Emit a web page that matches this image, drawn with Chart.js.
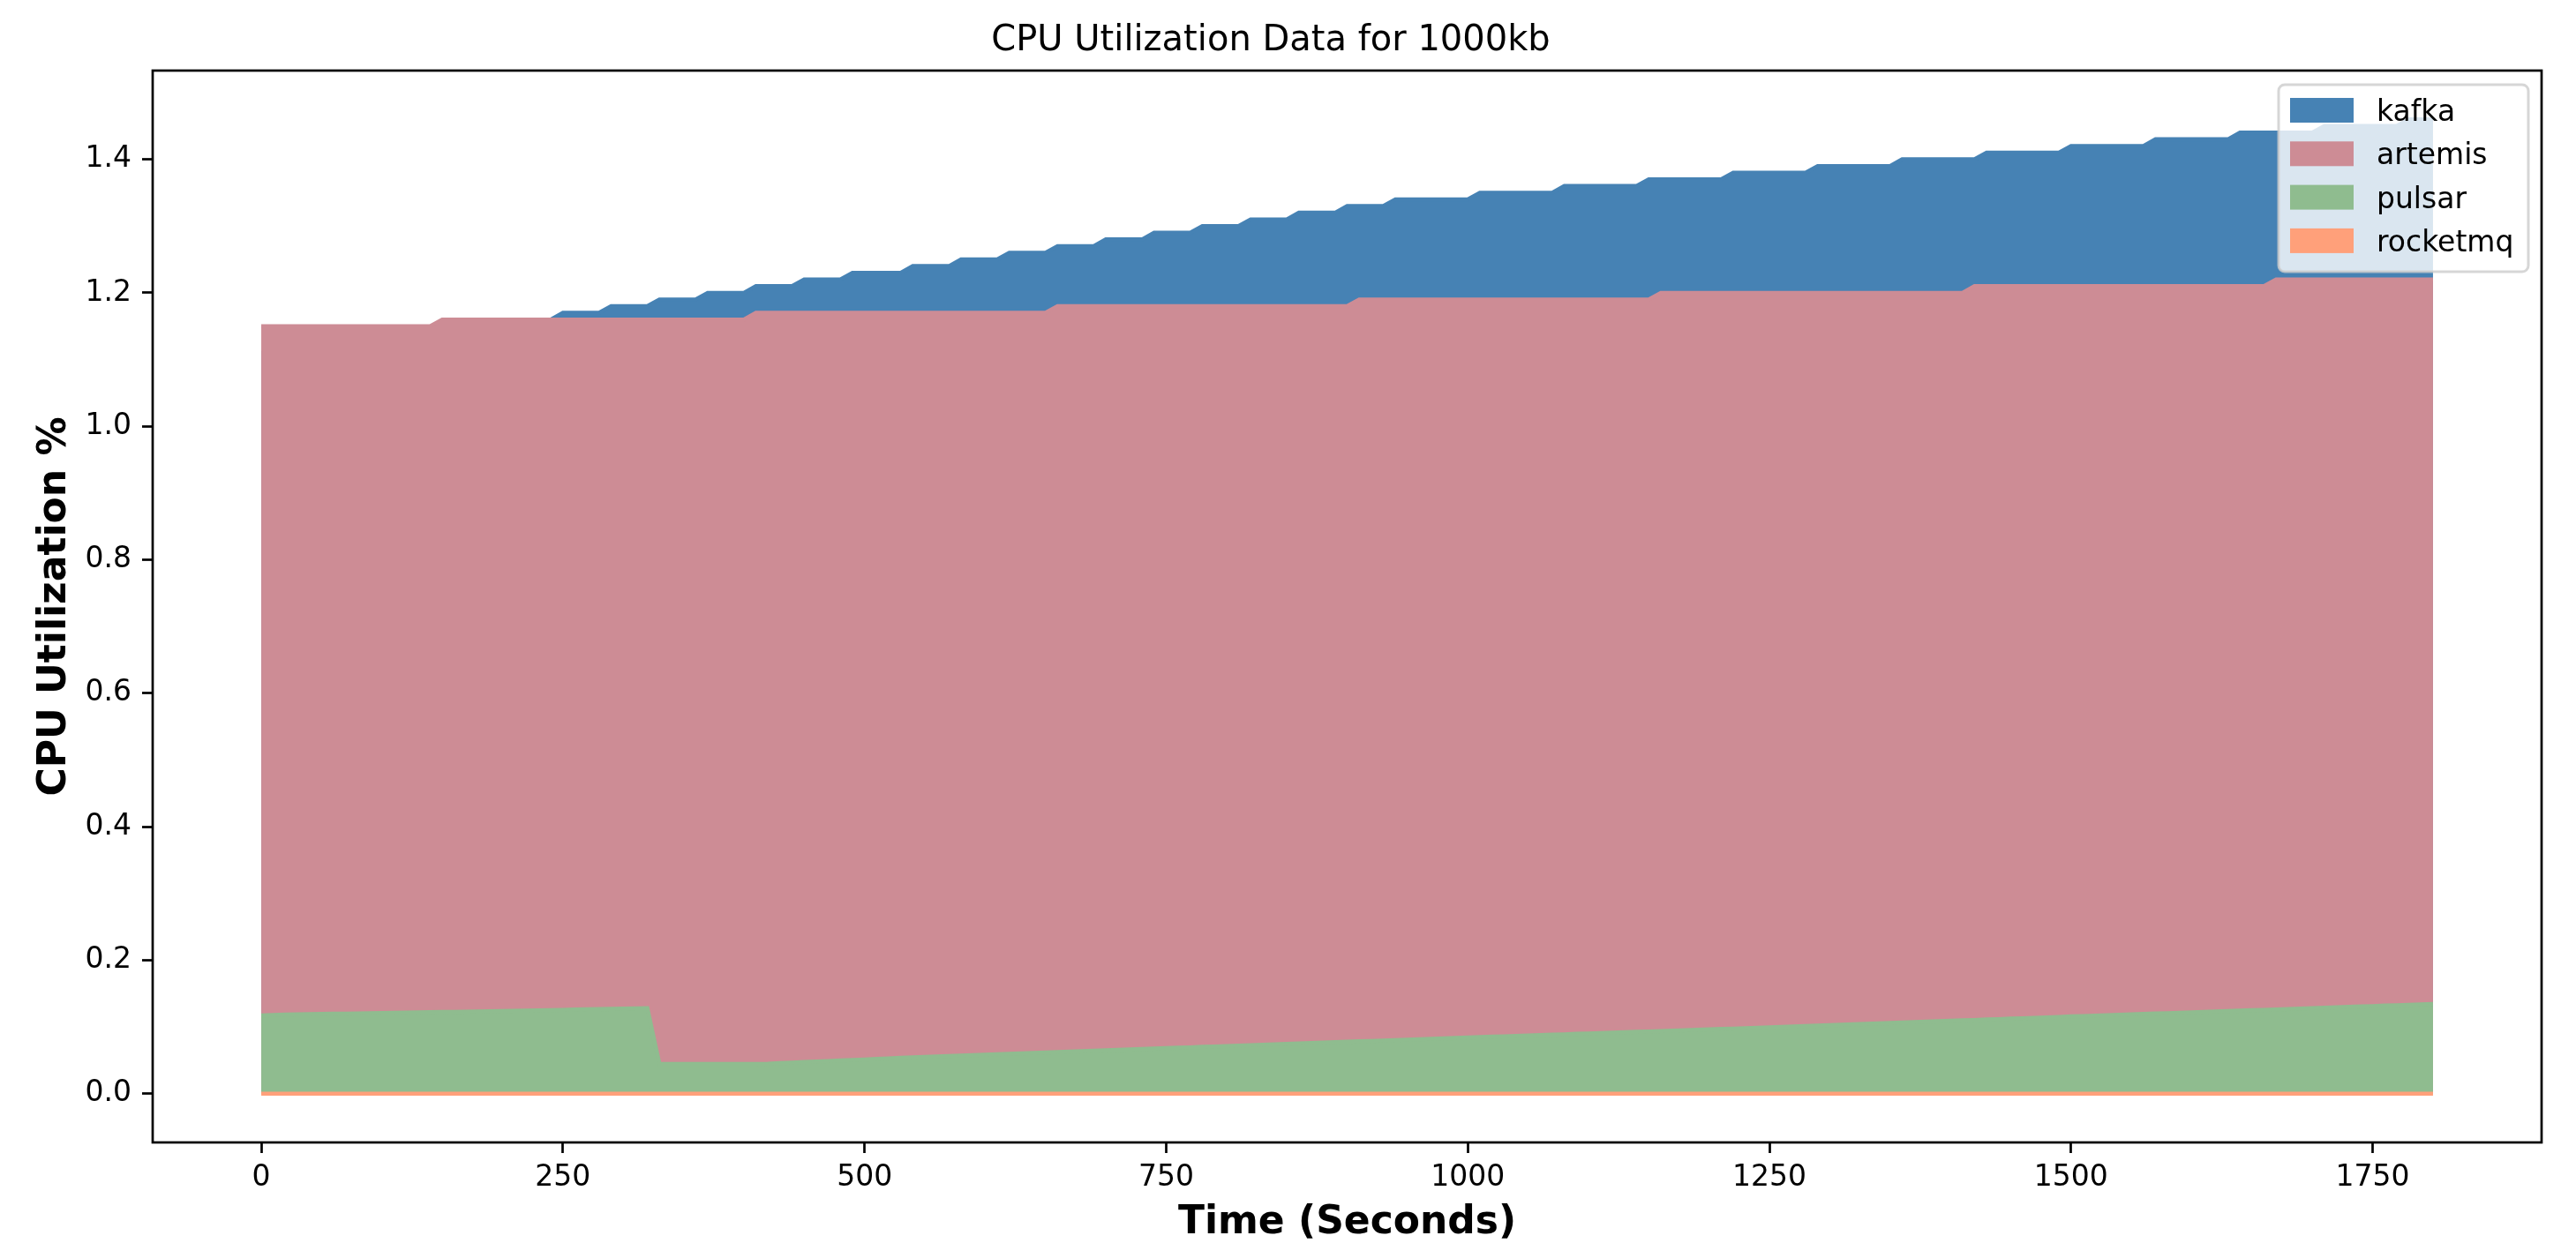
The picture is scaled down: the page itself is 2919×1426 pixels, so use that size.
<!DOCTYPE html>
<html>
<head>
<meta charset="utf-8">
<script src="https://cdn.jsdelivr.net/npm/chart.js@4.4.1/dist/chart.umd.min.js"></script>
<style>
html,body{margin:0;padding:0;background:#ffffff;overflow:hidden}
#wrap{width:2919px;height:1426px}
</style>
</head>
<body>
<div id="wrap"><canvas id="c" width="2919" height="1426"></canvas></div>
<script>
// ---- data ----
const times = [
0,10,20,30,40,50,60,70,80,90,100,110,120,130,140,150,160,170,180,190,
200,210,220,230,240,250,260,270,280,290,300,310,320,330,340,350,360,370,380,390,
400,410,420,430,440,450,460,470,480,490,500,510,520,530,540,550,560,570,580,590,
600,610,620,630,640,650,660,670,680,690,700,710,720,730,740,750,760,770,780,790,
800,810,820,830,840,850,860,870,880,890,900,910,920,930,940,950,960,970,980,990,
1000,1010,1020,1030,1040,1050,1060,1070,1080,1090,1100,1110,1120,1130,1140,1150,1160,1170,1180,1190,
1200,1210,1220,1230,1240,1250,1260,1270,1280,1290,1300,1310,1320,1330,1340,1350,1360,1370,1380,1390,
1400,1410,1420,1430,1440,1450,1460,1470,1480,1490,1500,1510,1520,1530,1540,1550,1560,1570,1580,1590,
1600,1610,1620,1630,1640,1650,1660,1670,1680,1690,1700,1710,1720,1730,1740,1750,1760,1770,1780,1790,
1800];

const kafka = [
1.11,1.11,1.11,1.11,1.11,1.12,1.12,1.12,1.12,1.13,1.13,1.13,1.13,1.14,1.14,1.14,1.14,1.15,1.15,1.15,
1.15,1.16,1.16,1.16,1.16,1.17,1.17,1.17,1.17,1.18,1.18,1.18,1.18,1.19,1.19,1.19,1.19,1.20,1.20,1.20,
1.20,1.21,1.21,1.21,1.21,1.22,1.22,1.22,1.22,1.23,1.23,1.23,1.23,1.23,1.24,1.24,1.24,1.24,1.25,1.25,
1.25,1.25,1.26,1.26,1.26,1.26,1.27,1.27,1.27,1.27,1.28,1.28,1.28,1.28,1.29,1.29,1.29,1.29,1.30,1.30,
1.30,1.30,1.31,1.31,1.31,1.31,1.32,1.32,1.32,1.32,1.33,1.33,1.33,1.33,1.34,1.34,1.34,1.34,1.34,1.34,
1.34,1.35,1.35,1.35,1.35,1.35,1.35,1.35,1.36,1.36,1.36,1.36,1.36,1.36,1.36,1.37,1.37,1.37,1.37,1.37,
1.37,1.37,1.38,1.38,1.38,1.38,1.38,1.38,1.38,1.39,1.39,1.39,1.39,1.39,1.39,1.39,1.40,1.40,1.40,1.40,
1.40,1.40,1.40,1.41,1.41,1.41,1.41,1.41,1.41,1.41,1.42,1.42,1.42,1.42,1.42,1.42,1.42,1.43,1.43,1.43,
1.43,1.43,1.43,1.43,1.44,1.44,1.44,1.44,1.44,1.44,1.44,1.45,1.45,1.45,1.45,1.45,1.45,1.45,1.46,1.46,
1.46];

const artemis = [
1.15,1.15,1.15,1.15,1.15,1.15,1.15,1.15,1.15,1.15,1.15,1.15,1.15,1.15,1.15,1.16,1.16,1.16,1.16,1.16,
1.16,1.16,1.16,1.16,1.16,1.16,1.16,1.16,1.16,1.16,1.16,1.16,1.16,1.16,1.16,1.16,1.16,1.16,1.16,1.16,
1.16,1.17,1.17,1.17,1.17,1.17,1.17,1.17,1.17,1.17,1.17,1.17,1.17,1.17,1.17,1.17,1.17,1.17,1.17,1.17,
1.17,1.17,1.17,1.17,1.17,1.17,1.18,1.18,1.18,1.18,1.18,1.18,1.18,1.18,1.18,1.18,1.18,1.18,1.18,1.18,
1.18,1.18,1.18,1.18,1.18,1.18,1.18,1.18,1.18,1.18,1.18,1.19,1.19,1.19,1.19,1.19,1.19,1.19,1.19,1.19,
1.19,1.19,1.19,1.19,1.19,1.19,1.19,1.19,1.19,1.19,1.19,1.19,1.19,1.19,1.19,1.19,1.20,1.20,1.20,1.20,
1.20,1.20,1.20,1.20,1.20,1.20,1.20,1.20,1.20,1.20,1.20,1.20,1.20,1.20,1.20,1.20,1.20,1.20,1.20,1.20,
1.20,1.20,1.21,1.21,1.21,1.21,1.21,1.21,1.21,1.21,1.21,1.21,1.21,1.21,1.21,1.21,1.21,1.21,1.21,1.21,
1.21,1.21,1.21,1.21,1.21,1.21,1.21,1.22,1.22,1.22,1.22,1.22,1.22,1.22,1.22,1.22,1.22,1.22,1.22,1.22,
1.22];

const pulsar = [
0.1172,0.1180,0.1186,0.1189,0.1192,0.1195,0.1198,0.1200,0.1203,0.1206,0.1209,0.1212,0.1215,0.1218,0.1221,0.1224,0.1227,0.1230,0.1233,0.1236,
0.1239,0.1242,0.1245,0.1249,0.1253,0.1257,0.1261,0.1265,0.1268,0.1271,0.1274,0.1277,0.1280,0.0446,0.0446,0.0446,0.0446,0.0446,0.0446,0.0446,
0.0446,0.0446,0.0450,0.0458,0.0466,0.0474,0.0482,0.0490,0.0497,0.0505,0.0513,0.0521,0.0529,0.0537,0.0544,0.0552,0.0559,0.0566,0.0572,0.0579,
0.0585,0.0592,0.0598,0.0605,0.0611,0.0618,0.0624,0.0631,0.0637,0.0644,0.0650,0.0657,0.0663,0.0670,0.0676,0.0683,0.0689,0.0695,0.0702,0.0708,
0.0715,0.0721,0.0727,0.0734,0.0740,0.0747,0.0753,0.0759,0.0766,0.0772,0.0778,0.0785,0.0791,0.0797,0.0804,0.0810,0.0816,0.0823,0.0829,0.0835,
0.0842,0.0848,0.0854,0.0860,0.0866,0.0872,0.0878,0.0884,0.0890,0.0897,0.0903,0.0909,0.0915,0.0921,0.0927,0.0933,0.0939,0.0945,0.0951,0.0957,
0.0963,0.0970,0.0976,0.0982,0.0988,0.0994,0.1001,0.1007,0.1014,0.1020,0.1027,0.1033,0.1040,0.1046,0.1053,0.1059,0.1066,0.1073,0.1079,0.1086,
0.1092,0.1099,0.1105,0.1112,0.1118,0.1125,0.1131,0.1138,0.1144,0.1151,0.1158,0.1164,0.1170,0.1176,0.1183,0.1189,0.1195,0.1201,0.1207,0.1214,
0.1220,0.1226,0.1232,0.1239,0.1245,0.1251,0.1257,0.1263,0.1270,0.1276,0.1282,0.1288,0.1295,0.1301,0.1307,0.1313,0.1320,0.1326,0.1332,0.1338,
0.1345];

const rocketmq = [
0,0,0,0,0,0,0,0,0,0,0,0,0,0,0,0,0,0,0,0,
0,0,0,0,0,0,0,0,0,0,0,0,0,0,0,0,0,0,0,0,
0,0,0,0,0,0,0,0,0,0,0,0,0,0,0,0,0,0,0,0,
0,0,0,0,0,0,0,0,0,0,0,0,0,0,0,0,0,0,0,0,
0,0,0,0,0,0,0,0,0,0,0,0,0,0,0,0,0,0,0,0,
0,0,0,0,0,0,0,0,0,0,0,0,0,0,0,0,0,0,0,0,
0,0,0,0,0,0,0,0,0,0,0,0,0,0,0,0,0,0,0,0,
0,0,0,0,0,0,0,0,0,0,0,0,0,0,0,0,0,0,0,0,
0,0,0,0,0,0,0,0,0,0,0,0,0,0,0,0,0,0,0,0,
0];

const seriesNames = ['kafka', 'artemis', 'pulsar', 'rocketmq'];
const seriesValues = [kafka, artemis, pulsar, rocketmq];
const seriesColors = ['#4682b4', '#cd8c95', '#8fbc8f', '#ffa07a'];
const xTicks = [0, 250, 500, 750, 1000, 1250, 1500, 1750];
const yTicks = [0.0, 0.2, 0.4, 0.6, 0.8, 1.0, 1.2, 1.4];
const titleText = 'CPU Utilization Data for 1000kb';
const xLabel = 'Time (Seconds)';
const yLabel = 'CPU Utilization %';

// ---- chart ----
const FONT = '"DejaVu Sans", "Liberation Sans", sans-serif';

const datasets = seriesNames.map((name, i) => ({
  label: name,
  data: times.map((t, k) => ({ x: t, y: seriesValues[i][k] })),
  backgroundColor: seriesColors[i],
  borderColor: seriesColors[i],
  borderWidth: 4.6,
  pointRadius: 0,
  pointHoverRadius: 0,
  tension: 0,
  fill: 'origin',
  order: seriesNames.length - i
}));

const framePlugin = {
  id: 'frameAndLegend',
  afterDatasetsDraw(chart) {
    const ctx = chart.ctx;
    const a = chart.chartArea;
    ctx.save();
    // axes frame
    ctx.strokeStyle = '#000000';
    ctx.lineWidth = 2.7;
    ctx.strokeRect(a.left, a.top, a.right - a.left, a.bottom - a.top);

    // legend box (upper right, inside axes)
    const bx = a.right - 298, by = a.top + 16, bw = 283, bh = 212;
    ctx.beginPath();
    ctx.roundRect(bx, by, bw, bh, 7);
    ctx.fillStyle = 'rgba(255,255,255,0.8)';
    ctx.fill();
    ctx.lineWidth = 3;
    ctx.strokeStyle = 'rgba(204,204,204,0.8)';
    ctx.stroke();

    ctx.font = '33px ' + FONT;
    ctx.textAlign = 'left';
    ctx.textBaseline = 'alphabetic';
    chart.data.datasets.forEach((ds, i) => {
      const cy = by + 29 + i * 49.3;
      ctx.fillStyle = ds.backgroundColor;
      ctx.fillRect(bx + 13, cy - 14, 72, 28);
      ctx.fillStyle = '#000000';
      ctx.fillText(ds.label, bx + 111, cy + 12);
    });
    ctx.restore();
  }
};

new Chart(document.getElementById('c'), {
  type: 'line',
  data: { datasets },
  options: {
    responsive: false,
    animation: false,
    devicePixelRatio: 1,
    layout: { padding: { left: 0, right: 39, top: 0, bottom: 0 } },
    plugins: {
      legend: { display: false },
      tooltip: { enabled: false },
      title: {
        display: true,
        text: titleText,
        color: '#000000',
        font: { family: FONT, size: 40, weight: 'normal', lineHeight: 1.2 },
        padding: { top: 23, bottom: 9 }
      }
    },
    scales: {
      x: {
        type: 'linear',
        min: -90,
        max: 1890,
        afterBuildTicks: (s) => { s.ticks = xTicks.map(v => ({ value: v })); },
        afterFit: (s) => { s.height = 131; },
        ticks: {
          autoSkip: false,
          maxRotation: 0,
          padding: 9,
          color: '#000000',
          font: { family: FONT, size: 33, lineHeight: 1.2 },
          callback: (v) => String(v)
        },
        grid: {
          display: true,
          drawOnChartArea: false,
          drawTicks: true,
          tickLength: 12,
          tickColor: '#000000',
          tickWidth: 2.7
        },
        border: { display: false },
        title: {
          display: true,
          text: xLabel,
          color: '#000000',
          font: { family: FONT, size: 44, weight: 'bold', lineHeight: 1.2 },
          padding: { top: 0, bottom: 13 }
        }
      },
      y: {
        type: 'linear',
        min: -0.073,
        max: 1.533,
        afterBuildTicks: (s) => { s.ticks = yTicks.map(v => ({ value: v })); },
        afterFit: (s) => { s.width = 173; },
        ticks: {
          autoSkip: false,
          padding: 12,
          color: '#000000',
          font: { family: FONT, size: 33, lineHeight: 1.2 },
          callback: (v) => Number(v).toFixed(1)
        },
        grid: {
          display: true,
          drawOnChartArea: false,
          drawTicks: true,
          tickLength: 12,
          tickColor: '#000000',
          tickWidth: 2.7
        },
        border: { display: false },
        title: {
          display: true,
          text: yLabel,
          color: '#000000',
          font: { family: FONT, size: 44, weight: 'bold', lineHeight: 1.2 },
          padding: { top: 36, bottom: 0 }
        }
      }
    }
  },
  plugins: [framePlugin]
});
</script>
</body>
</html>
